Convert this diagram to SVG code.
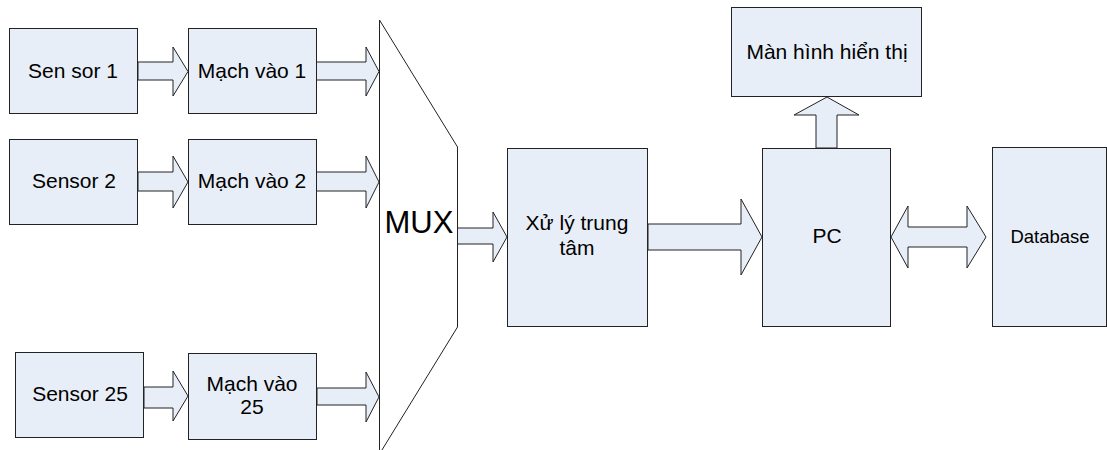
<svg xmlns="http://www.w3.org/2000/svg" width="1107" height="450" viewBox="0 0 1107 450">
<style>
.box{fill:#E8EEF7;stroke:#222;stroke-width:1}
.arr{fill:#E8EEF7;stroke:#222;stroke-width:1;stroke-linejoin:miter}
.t{font-family:"Liberation Sans",Arial,sans-serif;font-size:21px;fill:#000;text-anchor:middle}
</style>
<rect width="1107" height="450" fill="#fff"/>
<g id="connectors">
<path class="arr" d="M138,62 H173 V47 L188,71.5 L173,96 V80 H138 Z"/>
<path class="arr" d="M316,62 H366 V47 L379,71.5 L366,96 V80 H316 Z"/>
<path class="arr" d="M138,172 H173 V156 L188,182 L173,208 V191 H138 Z"/>
<path class="arr" d="M316,172 H366 V156 L379,182 L366,208 V191 H316 Z"/>
<path class="arr" d="M144,387 H173 V371 L188,396 L173,421 V408 H144 Z"/>
<path class="arr" d="M317,388 H366 V372 L379,397 L366,422 V405 H317 Z"/>
<path class="arr" d="M457,228 H493 V212 L507,237 L493,262 V244 H457 Z"/>
<path class="arr" d="M648,224 H741 V199 L762,237 L741,275 V250 H648 Z"/>
<path class="arr" d="M816,148 V115 H794 L827,97 L859,115 H837 V148 Z"/>
<path class="arr" d="M891,237 L908,206 V227 H967 V206 L986,237 L967,268 V247 H908 V268 Z"/>
</g>
<g id="sensor1"><rect class="box" x="9.5" y="28.5" width="128" height="85"/><text class="t" x="73" y="78">Sen sor 1</text></g>
<g id="mach1"><rect class="box" x="188.5" y="28.5" width="128" height="85"/><text class="t" x="252" y="78">Mạch vào 1</text></g>
<g id="sensor2"><rect class="box" x="9.5" y="139.5" width="128" height="85"/><text class="t" x="74" y="188">Sensor 2</text></g>
<g id="mach2"><rect class="box" x="188.5" y="139.5" width="128" height="85"/><text class="t" x="252" y="188">Mạch vào 2</text></g>
<g id="sensor25"><rect class="box" x="15.5" y="352.5" width="128" height="85"/><text class="t" x="80" y="401">Sensor 25</text></g>
<g id="mach25"><rect class="box" x="188.5" y="353.5" width="128" height="86"/><text class="t" x="252" y="391">Mạch vào</text><text class="t" x="252" y="414">25</text></g>
<g id="mux"><polygon points="379.5,20 457.5,147 457.5,327 379.5,454" fill="#fff" stroke="#222" stroke-width="1"/><text x="419" y="233" font-family="Liberation Sans,Arial,sans-serif" font-size="31" text-anchor="middle">MUX</text></g>
<g id="xuly"><rect class="box" x="507.5" y="148.5" width="140" height="178"/><text class="t" x="577" y="230">Xử lý trung</text><text class="t" x="577" y="255">tâm</text></g>
<g id="manhinh"><rect class="box" x="731.5" y="7.5" width="190" height="89"/><text class="t" x="827" y="59">Màn hình hiển thị</text></g>
<g id="pc"><rect class="box" x="762.5" y="148.5" width="128" height="178"/><text class="t" x="827" y="243">PC</text></g>
<g id="database"><rect class="box" x="992.5" y="147.5" width="114" height="179"/><text class="t" x="1050" y="243" style="font-size:18.5px">Database</text></g>
</svg>
